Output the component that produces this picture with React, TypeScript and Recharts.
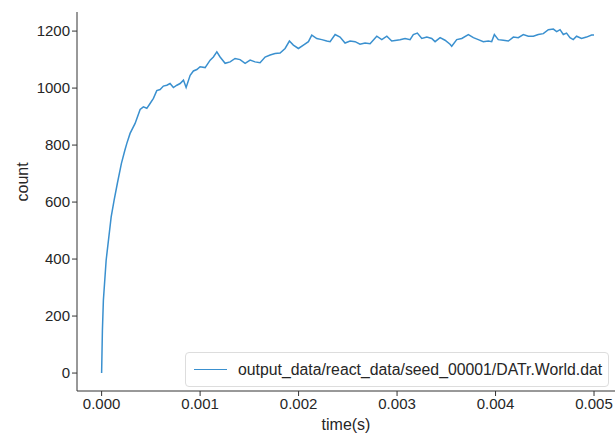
import { LineChart, Line, XAxis, YAxis, Legend } from 'recharts';

// time (s) and count
const times = [
  0, 0.000008, 0.000018, 0.000046, 0.000097, 0.000127, 0.00016, 0.000201, 0.000236, 0.000256,
  0.000289, 0.00034, 0.000391, 0.000424, 0.000459, 0.000492, 0.000526, 0.00056, 0.000594, 0.000627,
  0.000662, 0.000695, 0.000729, 0.000764, 0.000797, 0.000831, 0.000858, 0.000899, 0.000932, 0.000967,
  0.001, 0.001051, 0.001102, 0.001135, 0.00117, 0.001203, 0.001254, 0.001305, 0.001355, 0.001406,
  0.001457, 0.001508, 0.001558, 0.001609, 0.00166, 0.001711, 0.001761, 0.001812, 0.001863, 0.001907,
  0.001947, 0.001998, 0.002049, 0.0021, 0.002134, 0.002185, 0.002236, 0.002286, 0.00232, 0.002371,
  0.002421, 0.002472, 0.002523, 0.002574, 0.002624, 0.002675, 0.002726, 0.002794, 0.002845, 0.002896,
  0.002946, 0.002997, 0.00303, 0.003081, 0.003132, 0.003165, 0.003206, 0.003251, 0.003302, 0.003352,
  0.003386, 0.003437, 0.003487, 0.003538, 0.003555, 0.003606, 0.003657, 0.003724, 0.003775, 0.003825,
  0.003876, 0.003927, 0.003961, 0.003988, 0.004028, 0.004079, 0.00413, 0.004181, 0.004231, 0.004282,
  0.004333, 0.004384, 0.004434, 0.004485, 0.004536, 0.004587, 0.004621, 0.004655, 0.004688, 0.004721,
  0.004756, 0.004789, 0.004823, 0.004873, 0.004924, 0.004975, 0.005,
];

const counts = [
  0, 150, 256, 396, 548, 607, 666, 736, 782, 806,
  841, 876, 925, 934, 929, 946, 964, 991, 995, 1007,
  1010, 1016, 1002, 1010, 1016, 1028, 1002, 1045, 1060, 1065,
  1075, 1072, 1098, 1109, 1127, 1109, 1087, 1092, 1104, 1100,
  1087, 1098, 1092, 1089, 1109, 1116, 1121, 1123, 1139, 1165,
  1151, 1139, 1151, 1163, 1186, 1174, 1170, 1165, 1163, 1188,
  1179, 1158, 1165, 1163, 1154, 1158, 1156, 1182, 1170, 1182,
  1165, 1168, 1170, 1174, 1170, 1188, 1193, 1174, 1179, 1174,
  1163, 1177, 1168, 1154, 1147, 1170, 1174, 1188, 1177, 1170,
  1163, 1165, 1163, 1188, 1170, 1168, 1165, 1179, 1177, 1188,
  1182, 1182, 1188, 1191, 1205, 1207, 1198, 1205, 1188, 1193,
  1177, 1170, 1182, 1174, 1179, 1186, 1186,
];

const xTicks = [0, 0.001, 0.002, 0.003, 0.004, 0.005];
const yTicks = [0, 200, 400, 600, 800, 1000, 1200];
const seriesName = 'output_data/react_data/seed_00001/DATr.World.dat';

const data = times.map((t, i) => ({ t, count: counts[i] }));

const LINE_COLOR = '#3a90cf';
const AXIS_COLOR = '#333333';
const FONT = '"Liberation Sans", Arial, sans-serif';

const tickStyle = { fontSize: 15, fill: '#262626', fontFamily: FONT };
const labelStyle = { fill: '#262626', fontSize: 16, fontFamily: FONT };

const LegendBox = () => (
  <div
    style={{
      position: 'absolute',
      left: 185,
      top: 352,
      width: 424,
      height: 35,
      border: '1px solid #dddddd',
      borderRadius: 4,
      background: 'rgba(255,255,255,0.85)',
      display: 'flex',
      alignItems: 'center',
      fontFamily: FONT,
      fontSize: 15.8,
      color: '#262626',
      boxSizing: 'border-box',
    }}
  >
    <div style={{ width: 33, height: 0, borderTop: `1.5px solid ${LINE_COLOR}`, marginLeft: 8, marginRight: 11 }} />
    <span>{seriesName}</span>
  </div>
);

export default function App() {
  return (
    <div style={{ position: 'absolute', left: 0, top: 0 }}>
      <LineChart width={615} height={433} data={data} margin={{ top: 12, right: 0, bottom: 0, left: 0 }}>
        <XAxis
          dataKey="t"
          type="number"
          domain={[-0.00025, 0.005213]}
          allowDataOverflow
          ticks={xTicks}
          tickFormatter={(v: number) => v.toFixed(3)}
          height={42}
          tick={tickStyle}
          stroke={AXIS_COLOR}
          tickSize={5}
          label={{ value: 'time(s)', position: 'insideBottom', offset: 3, ...labelStyle }}
        />
        <YAxis
          type="number"
          domain={[-63, 1267]}
          allowDataOverflow
          ticks={yTicks}
          width={77}
          tick={tickStyle}
          stroke={AXIS_COLOR}
          tickSize={5}
          label={{ value: 'count', angle: -90, position: 'insideLeft', offset: 22, ...labelStyle }}
        />
        <Legend content={<LegendBox />} wrapperStyle={{ position: 'absolute', left: 0, top: 0, width: 0, height: 0 }} />
        <Line
          type="linear"
          dataKey="count"
          name={seriesName}
          stroke={LINE_COLOR}
          strokeWidth={1.5}
          dot={false}
          isAnimationActive={false}
        />
      </LineChart>
    </div>
  );
}
